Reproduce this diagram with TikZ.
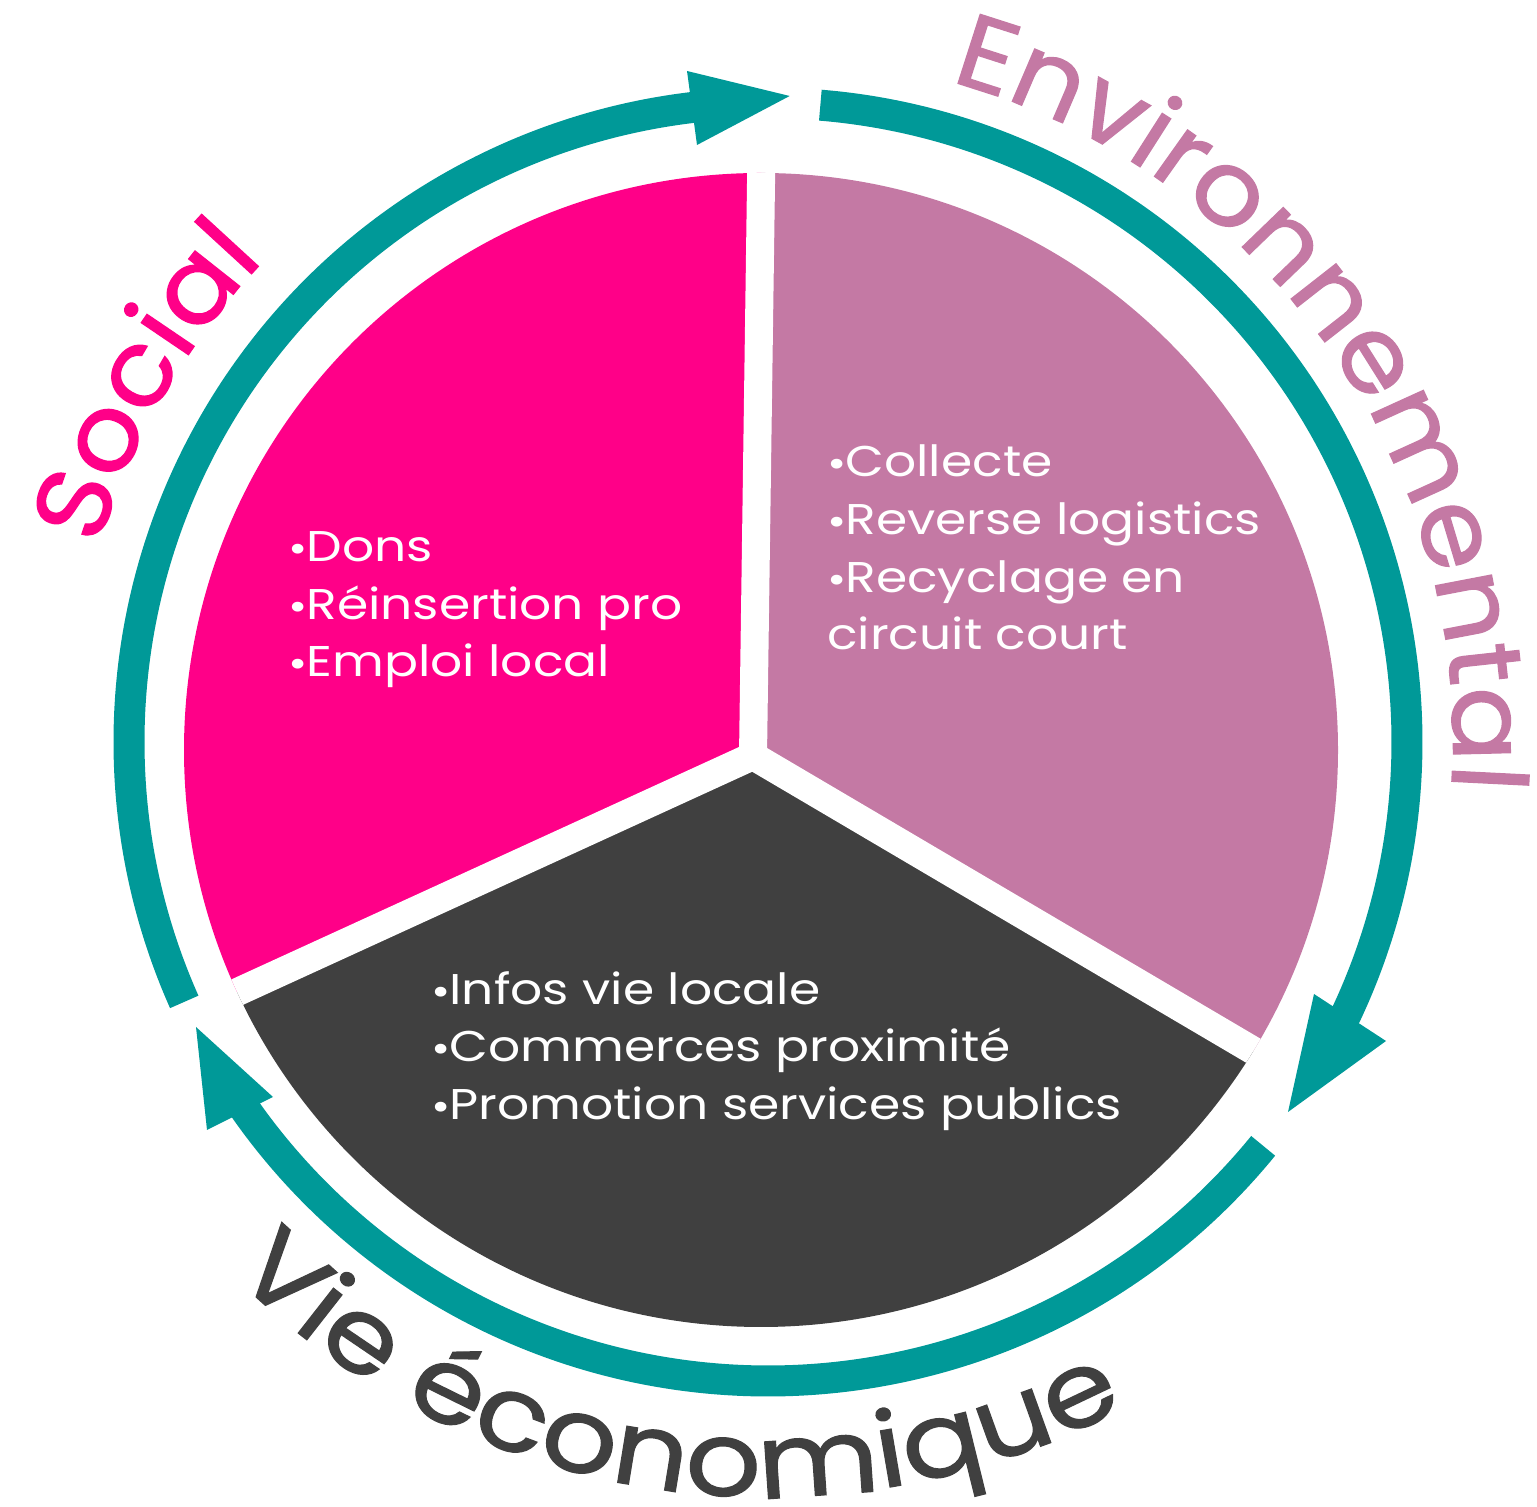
\documentclass[tikz,border=0pt]{standalone}
\usepackage{fontspec}
\setmainfont{Poppins}
\newfontfamily\sectfont[FakeStretch=1.17]{Poppins}
\newfontfamily\curvA[FakeStretch=1.07,FakeBold=1.2]{Poppins}
\newfontfamily\curvB[FakeStretch=1.14,FakeBold=1.2]{Poppins}
\usetikzlibrary{decorations.text,calc}
\definecolor{pinkc}{RGB}{255,0,136}
\definecolor{mauvec}{RGB}{196,121,164}
\definecolor{darkc}{RGB}{64,64,64}
\definecolor{tealc}{RGB}{0,153,152}
\newcommand\curvefontA{\curvA\fontsize{104pt}{120pt}\selectfont}
\newcommand\curvefontB{\curvB\fontsize{104pt}{120pt}\selectfont}
\newcommand\bul{\raisebox{-1pt}{\fontsize{40pt}{40pt}\selectfont •}\kern-1pt}
\begin{document}
\begin{tikzpicture}[x=1pt,y=1pt,
  sectxt/.style={white, anchor=base west, inner sep=0pt, font=\sectfont\fontsize{43pt}{57pt}\selectfont},
  ringarc/.style={tealc, line width=31pt, line cap=butt},
  headfill/.style={fill=tealc},
  gapline/.style={white, line width=28pt, line cap=round}]
\useasboundingbox (0,0) rectangle (1537,1507);
\coordinate (O) at (768,765);
\coordinate (C) at (761,757);
\coordinate (P) at (753,751);
% pie sectors
\begin{scope}
\clip (C) circle[radius=577];
\fill[pinkc] (P) -- ($(P)+(89.2:1000)$) -- ($(P)+(147:1000)$) -- ($(P)+(204.6:1000)$) -- cycle;
\fill[mauvec] (P) -- ($(P)+(-30.5:1000)$) -- ($(P)+(29.35:1000)$) -- ($(P)+(89.2:1000)$) -- cycle;
\fill[darkc] (P) -- ($(P)+(204.6:1000)$) -- ($(P)+(267:1000)$) -- ($(P)+(329.5:1000)$) -- cycle;
\draw[gapline] (P) -- ($(P)+(89.2:620)$);
\draw[gapline] (P) -- ($(P)+(204.6:620)$);
\draw[gapline] (P) -- ($(P)+(329.5:620)$);
\end{scope}
% ring arrows
\draw[ringarc] ($(O)+(204:639)$) arc[start angle=204, end angle=95, radius=639];
\fill[headfill] (687,1436) -- (789.7,1411) -- (697,1362) -- cycle;
\draw[ringarc] ($(O)+(85.3:639)$) arc[start angle=85.3, end angle=-27, radius=639];
\fill[headfill] (1314,513) -- (1386,466) -- (1288,395) -- cycle;
\draw[ringarc] ($(O)+(320.8:639)$) arc[start angle=320.8, end angle=213.5, radius=639];
\fill[headfill] (196,480) -- (273,410) -- (207,377) -- cycle;
% curved titles
\path[decorate, decoration={text along path, text align=center,
  text={|\curvefontA\color{pinkc}|Social}}]
  ($(O)+(195:697)$) arc[start angle=195, end angle=105, radius=697];
\path[decorate, decoration={text along path, text align=center,
  text={|\curvefontA\color{mauvec}|Environnemental}}]
  ($(O)+(95.3:685)$) arc[start angle=95.3, end angle=-24.7, radius=685];
\path[decorate, decoration={text along path, text align=center,
  text={|\curvefontB\color{darkc}|Vie économique}}]
  ($(O)+(206.5:755)$) arc[start angle=206.5, end angle=316.5, radius=755];
% sector texts
\node[sectxt] (p1) at (288,945) {\bul Dons};
\node[sectxt] (p2) at (288,887) {\bul Réinsertion pro};
\node[sectxt] (p3) at (288,830) {\bul Emploi local};
\node[sectxt] (m1) at (827,1030) {\bul Collecte};
\node[sectxt] (m2) at (827,972) {\bul Reverse logistics};
\node[sectxt] (m3) at (827,914) {\bul Recyclage en};
\node[sectxt] (m4) at (827,857) {circuit court};
\node[sectxt] (d1) at (431,502) {\bul Infos vie locale};
\node[sectxt] (d2) at (431,445) {\bul Commerces proximité};
\node[sectxt] (d3) at (431,387) {\bul Promotion services publics};
\end{tikzpicture}
\end{document}
